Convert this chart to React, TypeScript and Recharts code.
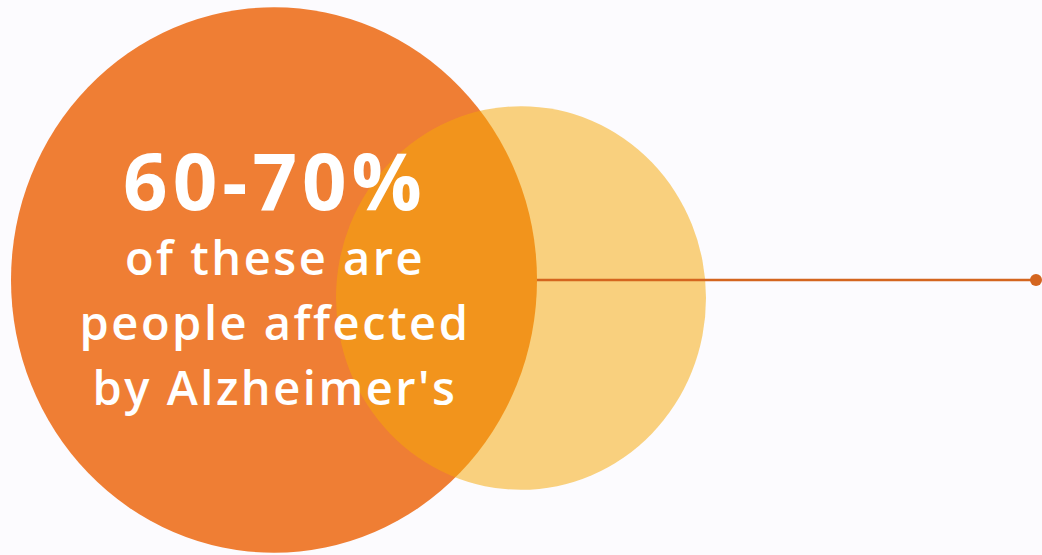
import React from "react";
import { ComposedChart, Scatter, XAxis, YAxis } from "recharts";

const W = 1042;
const H = 555;

// circles: dementia (large) and the overlap share
const circleNames = ["dementia", "alzheimers"];
const circleX = [274, 521];
const circleY = [280, 298];
const circleR = [263, 185];
const circleColors = ["#EF7E34", "#F6A808"];
const circleOpacity = [1, 0.52];

// connector from the big circle to the right edge
const connectorX = [537, 1036];
const connectorY = [280, 280];

const labelLines = ["60-70%", "of these are", "people affected", "by Alzheimer's"];
const labelX = [275];
const labelY = [210];

const STRETCH = 1.037;

const circleData = circleNames.map((name, i) => ({
  name,
  x: circleX[i],
  y: circleY[i],
  r: circleR[i],
  fill: circleColors[i],
  opacity: circleOpacity[i],
}));

const connectorData = connectorX.map((x, i) => ({ x, y: connectorY[i] }));
const labelData = labelX.map((x, i) => ({ x, y: labelY[i], lines: labelLines }));

function CircleShape(props: any) {
  const { cx, cy, payload } = props;
  const k = W / (W - 0); // px per unit on x
  return (
    <ellipse
      cx={cx}
      cy={cy}
      rx={payload.r * k}
      ry={payload.r * k * STRETCH}
      fill={payload.fill}
      fillOpacity={payload.opacity}
    />
  );
}

function EndDot(props: any) {
  const { cx, cy, index } = props;
  if (index !== connectorData.length - 1) return <g />;
  return <circle cx={cx} cy={cy} r={6} fill="#D4651F" />;
}

function LabelShape(props: any) {
  const { cx, cy, payload } = props;
  const lines: string[] = payload.lines;
  return (
    <text
      x={cx}
      y={cy}
      textAnchor="middle"
      fill="#FFFFFF"
      fontFamily="'Open Sans', sans-serif"
    >
      <tspan x={cx} y={cy} fontSize={78} fontWeight={700} letterSpacing={5}>
        {lines[0]}
      </tspan>
      {lines.slice(1).map((t, i) => (
        <tspan key={t} x={cx} y={cy + 65 * (i + 1)} fontSize={47} fontWeight={600} letterSpacing={2.5}>
          {t}
        </tspan>
      ))}
    </text>
  );
}

export default function App() {
  return (
    <div
      style={{
        position: "absolute",
        left: 0,
        top: 0,
        width: W,
        height: H,
        background: "#FCFBFE",
      }}
    >
      <ComposedChart width={W} height={H} margin={{ top: 0, right: 0, bottom: 0, left: 0 }}>
        <XAxis type="number" dataKey="x" domain={[0, W]} hide allowDataOverflow />
        <YAxis type="number" dataKey="y" domain={[0, H]} reversed hide allowDataOverflow />
        <Scatter data={circleData} shape={<CircleShape />} isAnimationActive={false} />
        <Scatter
          data={connectorData}
          line={{ stroke: "#D4651F", strokeWidth: 2.5 }}
          shape={<EndDot />}
          isAnimationActive={false}
        />
        <Scatter data={labelData} shape={<LabelShape />} isAnimationActive={false} />
      </ComposedChart>
    </div>
  );
}
